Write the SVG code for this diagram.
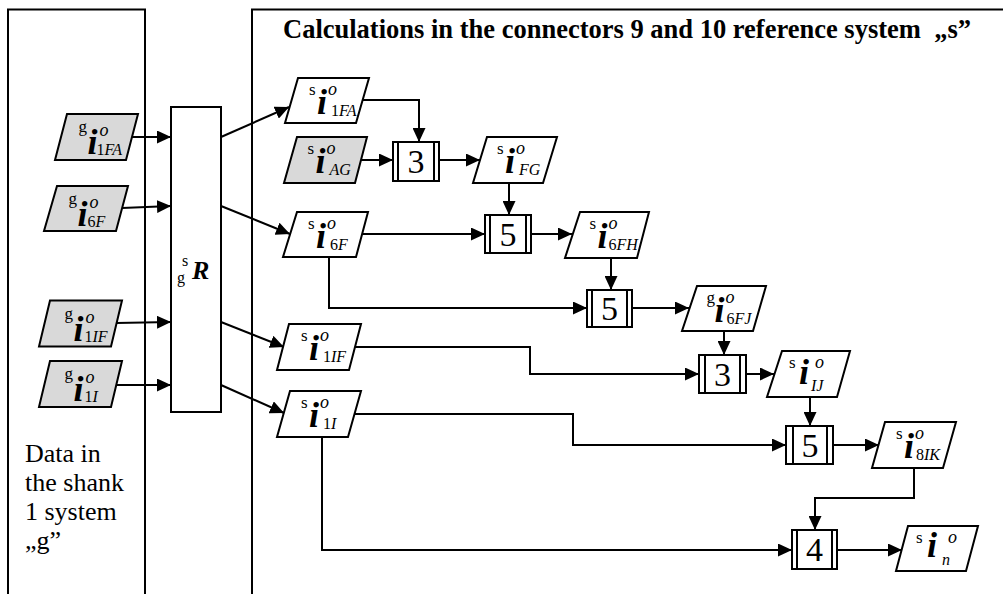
<svg xmlns="http://www.w3.org/2000/svg" width="1003" height="594" viewBox="0 0 1003 594">
<style>
.ln{fill:none;stroke:#000;stroke-width:2}
.pn{fill:#fff;stroke:#000;stroke-width:2}
.par{fill:#fff;stroke:#000;stroke-width:2;stroke-linejoin:miter}
.gr{fill:#d9d9d9}
.bx{fill:#fff;stroke:#000;stroke-width:2}
.bl{stroke:#000;stroke-width:2}
text{font-family:"Liberation Serif","Times New Roman",serif;fill:#000}
.pre{font-size:17px}
.ii{font-size:36px;font-weight:bold;font-style:italic}
.sup{font-size:18px;font-style:italic}
.sub{font-size:16px}
.it{font-style:italic}
.num{font-size:34px;text-anchor:middle}
.title{font-size:26.5px;font-weight:bold}
.side{font-size:26px}
</style>
<defs>
<marker id="ah" markerUnits="userSpaceOnUse" markerWidth="14" markerHeight="13" refX="14" refY="6.5" orient="auto"><path d="M0,0 L14,6.5 L0,13 z" fill="#000"/></marker>
</defs>

<g id="panel-left">
<rect class="pn" x="8" y="9.5" width="137" height="600"/>
<text class="side" x="25" y="462">Data in</text>
<text class="side" x="25" y="491">the shank</text>
<text class="side" x="25" y="520">1 system</text>
<text class="side" x="25" y="549">„g”</text>
</g>
<g id="panel-right">
<rect class="pn" x="252" y="9.5" width="800" height="600"/>
<text class="title" x="283" y="38">Calculations in the connectors 9 and 10 reference system &#160;„s”</text>
</g>

<g id="connectors">
<path class="ln" marker-end="url(#ah)" d="M132,137 H171"/>
<path class="ln" marker-end="url(#ah)" d="M122,208 L171,206"/>
<path class="ln" marker-end="url(#ah)" d="M116,323 L171,322"/>
<path class="ln" marker-end="url(#ah)" d="M116,385 H171"/>
<path class="ln" marker-end="url(#ah)" d="M221,137 L289,107"/>
<path class="ln" marker-end="url(#ah)" d="M221,206 L290,234"/>
<path class="ln" marker-end="url(#ah)" d="M221,322 L284,347"/>
<path class="ln" marker-end="url(#ah)" d="M221,385 L284,413"/>
<path class="ln" marker-end="url(#ah)" d="M362,100 H419 V142"/>
<path class="ln" marker-end="url(#ah)" d="M361,160 H393"/>
<path class="ln" marker-end="url(#ah)" d="M439,160 H480"/>
<path class="ln" marker-end="url(#ah)" d="M509,183 V215"/>
<path class="ln" marker-end="url(#ah)" d="M362,234 H485"/>
<path class="ln" marker-end="url(#ah)" d="M531,234 H572"/>
<path class="ln" marker-end="url(#ah)" d="M611,258 V290"/>
<path class="ln" marker-end="url(#ah)" d="M329,257 V308 H587"/>
<path class="ln" marker-end="url(#ah)" d="M632,308 H689"/>
<path class="ln" marker-end="url(#ah)" d="M724,331 V355"/>
<path class="ln" marker-end="url(#ah)" d="M355,347 H530 V374 H699"/>
<path class="ln" marker-end="url(#ah)" d="M746,374 H774"/>
<path class="ln" marker-end="url(#ah)" d="M810,397 V426"/>
<path class="ln" marker-end="url(#ah)" d="M355,414 H573 V445 H786"/>
<path class="ln" marker-end="url(#ah)" d="M833,445 H879"/>
<path class="ln" marker-end="url(#ah)" d="M914,468 V498 H815 V530"/>
<path class="ln" marker-end="url(#ah)" d="M322,437 V550 H792"/>
<path class="ln" marker-end="url(#ah)" d="M837,550 H902"/>
</g>

<g id="R">
<rect class="bx" x="171" y="107" width="50" height="305"/>
<text x="182" y="266" style="font-size:16px">s</text>
<text x="177" y="283" style="font-size:16px">g</text>
<text x="192" y="279" style="font-size:26px;font-weight:bold;font-style:italic">R</text>
</g>

<g id="g1FA" transform="translate(96.5,137)">
<polygon class="par gr" points="-29.5,-23 41.5,-23 29.5,23 -41.5,23"/>
<text class="pre" x="-18" y="-5">g</text><text class="ii" x="-9" y="17">i</text><text class="sup" x="3" y="-1">o</text><text class="sub" x="0" y="18">1<tspan class="it">FA</tspan></text>
</g>
<g id="g6F" transform="translate(86.5,208.5)">
<polygon class="par gr" points="-29.5,-22.5 41.5,-22.5 29.5,22.5 -42.5,22.5"/>
<text class="pre" x="-18" y="-5">g</text><text class="ii" x="-9" y="17">i</text><text class="sup" x="3" y="-1">o</text><text class="sub" x="1" y="18">6<tspan class="it">F</tspan></text>
</g>
<g id="g1IF" transform="translate(80.5,323.5)">
<polygon class="par gr" points="-30.5,-23 41.5,-23 30.5,23 -41.5,23"/>
<text class="pre" x="-16" y="-5">g</text><text class="ii" x="-7" y="17">i</text><text class="sup" x="5" y="-1">o</text><text class="sub" x="4" y="18">1<tspan class="it">IF</tspan></text>
</g>
<g id="g1I" transform="translate(80.5,384)">
<polygon class="par gr" points="-30.5,-23 41.5,-23 30.5,23 -41.5,23"/>
<text class="pre" x="-16" y="-5">g</text><text class="ii" x="-7" y="17">i</text><text class="sup" x="5" y="-1">o</text><text class="sub" x="4" y="18">1<tspan class="it">I</tspan></text>
</g>

<g id="s1FA" transform="translate(327,100.5)">
<polygon class="par" points="-29,-22.5 42,-22.5 29,22.5 -42,22.5"/>
<text class="pre" x="-18" y="-6">s</text><text class="ii" x="-10" y="13">i</text><text class="sup" x="1" y="-6">o</text><text class="sub" x="4" y="15">1<tspan class="it">FA</tspan></text>
</g>
<g id="sAG" transform="translate(325.5,160)">
<polygon class="par gr" points="-28.5,-23 41.5,-23 29.5,23 -41.5,23"/>
<text class="pre" x="-18" y="-6">s</text><text class="ii" x="-10" y="13">i</text><text class="sup" x="1" y="-6">o</text><text class="sub it" x="4" y="15">AG</text>
</g>
<g id="sFG" transform="translate(515,160)">
<polygon class="par" points="-28,-23 42,-23 28,23 -42,23"/>
<text class="pre" x="-18" y="-6">s</text><text class="ii" x="-10" y="13">i</text><text class="sup" x="1" y="-6">o</text><text class="sub it" x="4" y="15">FG</text>
</g>
<g id="s6F" transform="translate(326,234.5)">
<polygon class="par" points="-29,-22.5 42,-22.5 30,22.5 -43,22.5"/>
<text class="pre" x="-18" y="-6">s</text><text class="ii" x="-10" y="13">i</text><text class="sup" x="1" y="-6">o</text><text class="sub" x="4" y="15">6<tspan class="it">F</tspan></text>
</g>
<g id="s6FH" transform="translate(607.5,235)">
<polygon class="par" points="-27.5,-23 41.5,-23 29.5,23 -42.5,23"/>
<text class="pre" x="-18" y="-6">s</text><text class="ii" x="-10" y="13">i</text><text class="sup" x="1" y="-6">o</text><text class="sub" x="1" y="15">6<tspan class="it">FH</tspan></text>
</g>
<g id="g6FJ" transform="translate(724.5,308.5)">
<polygon class="par" points="-27.5,-22.5 41.5,-22.5 28.5,22.5 -42.5,22.5"/>
<text class="pre" x="-18" y="-6">g</text><text class="ii" x="-10" y="13">i</text><text class="sup" x="1" y="-6">o</text><text class="sub" x="2" y="15">6<tspan class="it">FJ</tspan></text>
</g>
<g id="s1IF" transform="translate(319,347)">
<polygon class="par" points="-30,-23 42,-23 30,23 -42,23"/>
<text class="pre" x="-18" y="-6">s</text><text class="ii" x="-10" y="13">i</text><text class="sup" x="1" y="-6">o</text><text class="sub" x="4" y="15">1<tspan class="it">IF</tspan></text>
</g>
<g id="s1I" transform="translate(319,414)">
<polygon class="par" points="-29,-23 42,-23 29,23 -42,23"/>
<text class="pre" x="-18" y="-6">s</text><text class="ii" x="-10" y="13">i</text><text class="sup" x="1" y="-6">o</text><text class="sub" x="4" y="15">1<tspan class="it">I</tspan></text>
</g>
<g id="sIJ" transform="translate(809,374)">
<polygon class="par" points="-27,-23 41,-23 28,23 -42,23"/>
<text class="pre" x="-20" y="-6">s</text><text class="ii" x="-10" y="10">i</text><text class="sup" x="6" y="-6">o</text><text class="sub it" x="2" y="17">IJ</text>
</g>
<g id="s8IK" transform="translate(914,445)">
<polygon class="par" points="-29,-23 42,-23 29,23 -42,23"/>
<text class="pre" x="-18" y="-6">s</text><text class="ii" x="-10" y="13">i</text><text class="sup" x="1" y="-6">o</text><text class="sub" x="2" y="15">8<tspan class="it">IK</tspan></text>
</g>
<g id="sn" transform="translate(937,548.5)">
<polygon class="par" points="-29,-22.5 41,-22.5 29,22.5 -41,22.5"/>
<text class="pre" x="-21" y="-6">s</text><text class="ii" x="-10" y="8">i</text><text class="sup" x="11" y="-6">o</text><text class="sub it" x="5" y="16">n</text>
</g>

<g id="B3a">
<rect class="bx" x="393" y="142" width="46" height="39"/>
<line class="bl" x1="398" y1="142" x2="398" y2="181"/><line class="bl" x1="434" y1="142" x2="434" y2="181"/>
<text class="num" x="416" y="173">3</text>
</g>
<g id="B5a">
<rect class="bx" x="485" y="215" width="46" height="38"/>
<line class="bl" x1="490" y1="215" x2="490" y2="253"/><line class="bl" x1="526" y1="215" x2="526" y2="253"/>
<text class="num" x="508" y="246">5</text>
</g>
<g id="B5b">
<rect class="bx" x="587" y="290" width="45" height="37"/>
<line class="bl" x1="592" y1="290" x2="592" y2="327"/><line class="bl" x1="627" y1="290" x2="627" y2="327"/>
<text class="num" x="609.5" y="320">5</text>
</g>
<g id="B3b">
<rect class="bx" x="699" y="355" width="47" height="38"/>
<line class="bl" x1="705" y1="355" x2="705" y2="393"/><line class="bl" x1="740" y1="355" x2="740" y2="393"/>
<text class="num" x="722.5" y="386">3</text>
</g>
<g id="B5c">
<rect class="bx" x="786" y="426" width="47" height="38"/>
<line class="bl" x1="793" y1="426" x2="793" y2="464"/><line class="bl" x1="827" y1="426" x2="827" y2="464"/>
<text class="num" x="810" y="457">5</text>
</g>
<g id="B4">
<rect class="bx" x="792" y="530" width="45" height="39"/>
<line class="bl" x1="797" y1="530" x2="797" y2="569"/><line class="bl" x1="832" y1="530" x2="832" y2="569"/>
<text class="num" x="814.5" y="561">4</text>
</g>
</svg>
